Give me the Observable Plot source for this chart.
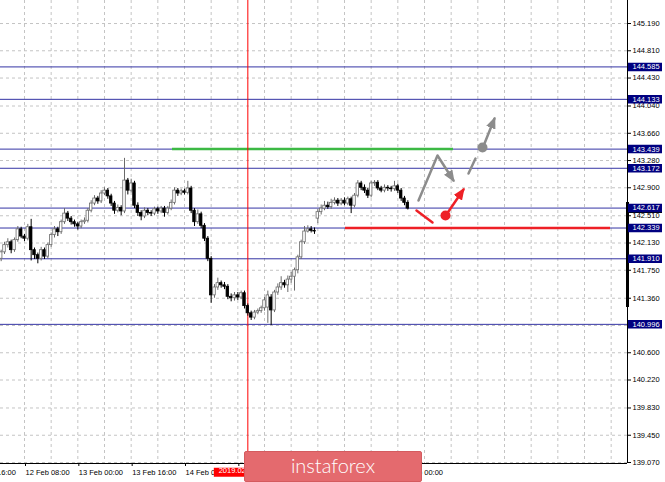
<!DOCTYPE html>
<html><head><meta charset="utf-8">
<script src="https://cdn.jsdelivr.net/npm/d3@7"></script>
<script src="https://cdn.jsdelivr.net/npm/@observablehq/plot@0.6"></script>
<style>
html,body{margin:0;padding:0;background:#fff;overflow:hidden;}
#wrap{position:relative;width:665px;height:482px;overflow:hidden;}
#logo{position:absolute;left:244px;top:451px;width:176px;height:29px;background:#e46a6e;border:1px solid #d45b5f;border-radius:2px;color:#fff;font:300 20px Lato,"Open Sans",sans-serif;text-align:center;line-height:27px;}
</style></head><body>
<div id="wrap"><div id="chart"></div><div id="logo">instaforex</div></div>
<script>
// ---- data (hourly candles, index = bar number) ----
const open = [141.91,142.00,142.10,142.14,142.03,142.17,142.32,142.22,142.19,142.35,
142.03,141.96,141.91,142.03,141.94,142.10,142.24,142.32,142.28,142.42,
142.54,142.47,142.42,142.39,142.36,142.42,142.44,142.58,142.68,142.75,
142.71,142.82,142.86,142.78,142.68,142.58,142.62,142.57,143.00,142.86,
142.96,142.65,142.55,142.50,142.58,142.55,142.54,142.60,142.57,142.61,
142.55,142.61,142.69,142.86,142.82,142.85,142.83,142.89,142.58,142.42,
142.53,142.37,142.19,141.91,141.40,141.51,141.57,141.54,141.52,141.38,
141.36,141.40,141.37,141.43,141.25,141.15,141.09,141.16,141.18,141.22,
141.23,141.37,141.19,141.44,141.51,141.57,141.54,141.62,141.66,141.75,
141.93,142.14,142.29,142.32,142.30,142.47,142.56,142.61,142.65,142.63,
142.69,142.72,142.68,142.72,142.68,142.74,142.65,142.79,142.96,142.90,
142.86,142.79,142.96,142.97,142.89,142.86,142.90,142.89,142.88,142.92,
142.86,142.75,142.69];
const close = [142.00,142.10,142.14,142.03,142.17,142.32,142.22,142.19,142.35,142.03,
141.96,141.91,142.03,141.94,142.10,142.24,142.32,142.28,142.42,142.54,
142.47,142.42,142.39,142.36,142.42,142.44,142.58,142.68,142.75,142.71,
142.82,142.86,142.78,142.68,142.58,142.62,142.57,143.00,142.86,142.96,
142.65,142.55,142.50,142.58,142.55,142.54,142.60,142.57,142.61,142.55,
142.61,142.69,142.86,142.82,142.85,142.83,142.89,142.58,142.42,142.53,
142.37,142.19,141.91,141.40,141.51,141.57,141.54,141.52,141.38,141.36,
141.40,141.37,141.43,141.25,141.15,141.09,141.16,141.18,141.22,141.33,
141.40,141.19,141.44,141.51,141.57,141.54,141.62,141.66,141.75,141.93,
142.14,142.29,142.32,142.30,142.29,142.56,142.61,142.65,142.63,142.69,
142.72,142.68,142.72,142.68,142.74,142.65,142.79,142.96,142.90,142.86,
142.79,142.96,142.97,142.89,142.86,142.90,142.89,142.88,142.92,142.86,
142.75,142.69,142.61];
const high = [142.03,142.14,142.19,142.17,142.20,142.36,142.35,142.25,142.39,142.46,
142.06,141.99,142.07,142.06,142.13,142.27,142.36,142.35,142.45,142.61,
142.57,142.50,142.45,142.42,142.45,142.48,142.61,142.72,142.79,142.78,
142.86,142.90,142.89,142.81,142.71,142.66,142.65,143.31,143.03,143.02,
142.99,142.69,142.58,142.62,142.61,142.58,142.63,142.63,142.64,142.64,
142.64,142.73,142.90,142.89,142.88,142.88,142.99,142.92,142.61,142.59,
142.56,142.40,142.22,141.94,141.55,141.64,141.60,141.58,141.55,141.42,
141.44,141.44,141.46,141.46,141.28,141.18,141.19,141.21,141.25,141.37,
141.46,141.41,141.47,141.56,141.66,141.61,141.67,141.72,141.78,141.96,
142.17,142.36,142.37,142.36,142.34,142.60,142.66,142.71,142.70,142.74,
142.76,142.75,142.75,142.76,142.77,142.77,142.82,143.00,142.99,142.94,
142.89,142.99,143.00,143.00,142.92,142.94,142.93,142.92,142.99,142.95,
142.89,142.78,142.72];
const low = [141.87,141.97,142.06,141.98,142.00,142.14,142.19,142.15,142.16,141.88,
141.90,141.84,141.88,141.90,141.91,142.07,142.20,142.22,142.25,142.39,
142.43,142.38,142.35,142.31,142.33,142.39,142.41,142.55,142.65,142.67,
142.68,142.79,142.74,142.64,142.53,142.55,142.51,142.54,142.80,142.83,
142.61,142.50,142.44,142.47,142.51,142.50,142.51,142.53,142.54,142.49,
142.52,142.58,142.66,142.78,142.79,142.80,142.80,142.54,142.36,142.39,
142.33,142.15,141.87,141.29,141.36,141.47,141.50,141.48,141.34,141.31,
141.32,141.33,141.34,141.21,141.11,141.05,141.06,141.13,141.15,141.18,
141.01,140.98,141.16,141.40,141.47,141.50,141.44,141.57,141.46,141.70,
141.90,142.11,142.27,142.27,142.25,142.40,142.52,142.58,142.60,142.60,
142.66,142.64,142.65,142.65,142.65,142.54,142.62,142.76,142.86,142.82,
142.75,142.76,142.92,142.86,142.83,142.83,142.85,142.84,142.85,142.82,
142.71,142.65,142.59];

const priceTicks = [145.19,144.81,144.43,144.04,143.66,143.28,142.90,142.51,142.13,141.75,141.36,140.98,140.60,140.22,139.83,139.45,139.07];
const levels = [144.585,144.133,143.439,143.172,142.617,142.339,141.910,140.996];
const timeBars = [-9,7,23,39,55,71,87,103,119];
// labels of ticks 71, 87 and 103 sit completely under the time label and the logo: not shown
const timeLabels = ["11 Feb 16:00","12 Feb 08:00","13 Feb 00:00","13 Feb 16:00","14 Feb 08:00","","","","19 Feb 00:00"];
const gridBars = d3.range(7, 188, 8);
const currentPrice = 142.611;
const vLineBar = 74;
const vLineLabel = "2019.02.15 03:00";

// drawn annotations (bar index, price)
const greenSeg = [{x1: 51.4, x2: 135.7, y: 143.439}];
const redSeg = [{x1: 103.3, x2: 182.8, y: 142.339}];
const grayPath = [{x:125.2,y:142.723},{x:130.9,y:143.350},{x:135.7,y:143.002}];
const redDash = [{x:124.6,y:142.583},{x:129.4,y:142.416}];
const redArrow = [{x:134.2,y:142.569},{x:138.7,y:142.876}];
const grayDash = [{x:140.2,y:143.099},{x:142.3,y:143.308}];
const grayArrow = [{x:145.0,y:143.517},{x:148.0,y:143.866}];
const redDot = [{x:133.3,y:142.514}];
const grayDot = [{x:144.4,y:143.462}];
const axisBar = [{x:187.9, y1:142.695, y2:141.231}];

const candles = open.map((o,i)=>({i, o, h:high[i], l:low[i], c:close[i], up: close[i] >= o}));
const labelOf = new Map(timeBars.map((b,k)=>[b, timeLabels[k]]));

const BOX_X1 = 188.2, BOX_X2 = 198.4; // label box span in the right margin (bar units)

const chart = Plot.plot({
  width: 665, height: 482,
  marginLeft: 0, marginRight: 38, marginTop: 0, marginBottom: 19,
  x: {domain: [-0.2, 187.9], axis: null},
  y: {domain: [139.056, 145.511], axis: null},
  style: {fontFamily: "'Liberation Sans', Arial, sans-serif", fontSize: "7.5px", background: "#fff", color: "#000", overflow: "hidden"},
  marks: [
    Plot.ruleX(gridBars, {stroke: "#c4c4c4", strokeDasharray: "3,3"}),
    Plot.ruleY(priceTicks, {stroke: "#c4c4c4", strokeDasharray: "3,3"}),
    Plot.ruleY(levels, {stroke: "#3434a4", strokeWidth: 1}),
    Plot.ruleY(greenSeg, {y: "y", x1: "x1", x2: "x2", stroke: "#3cb944", strokeWidth: 2.5}),
    Plot.ruleY(redSeg, {y: "y", x1: "x1", x2: "x2", stroke: "#ee2026", strokeWidth: 2.5}),
    Plot.ruleX([vLineBar], {stroke: "#ff0000", strokeWidth: 1}),
    Plot.ruleX(candles, {x: "i", y1: "l", y2: "h", stroke: d => d.up ? "#6a6a6a" : "#000000"}),
    Plot.rect(candles, {x1: d => d.i - 0.38, x2: d => d.i + 0.38, y1: "o", y2: "c",
      fill: d => d.up ? "#ffffff" : "#000000", stroke: d => d.up ? "#6a6a6a" : "#000000", strokeWidth: 0.8}),
    Plot.line(redDash, {x: "x", y: "y", stroke: "#ee2026", strokeWidth: 2.5}),
    Plot.line(redArrow, {x: "x", y: "y", stroke: "#ee2026", strokeWidth: 2.5, ariaDescription: "red-head"}),
    Plot.dot(redDot, {x: "x", y: "y", r: 5, fill: "#ee2026"}),
    Plot.line(grayPath, {x: "x", y: "y", stroke: "#8c8c8c", strokeWidth: 2.5, ariaDescription: "gray-head"}),
    Plot.line(grayDash, {x: "x", y: "y", stroke: "#8c8c8c", strokeWidth: 2.5}),
    Plot.line(grayArrow, {x: "x", y: "y", stroke: "#8c8c8c", strokeWidth: 2.5, ariaDescription: "gray-head"}),
    Plot.dot(grayDot, {x: "x", y: "y", r: 5, fill: "#8c8c8c"}),
    // frame lines
    Plot.ruleX([187.9], {stroke: "#000"}),
    Plot.ruleY([139.056], {stroke: "#000"}),
    Plot.ruleX(axisBar, {x: "x", y1: "y1", y2: "y2", stroke: "#000", strokeWidth: 3}),
    // axes
    Plot.axisY(priceTicks, {anchor: "right", tickSize: 3, tickPadding: 2, label: null, tickFormat: d3.format(".3f")}),
    Plot.axisX(timeBars, {anchor: "bottom", tickSize: 3, tickPadding: 3, label: null, tickFormat: d => labelOf.get(d), textAnchor: "start", dx: 1}),
    // price labels
    Plot.ruleY([currentPrice], {x1: BOX_X1, x2: BOX_X2, stroke: "#000", strokeWidth: 9}),
    Plot.ruleY(levels, {x1: BOX_X1, x2: BOX_X2, stroke: "#000080", strokeWidth: 8.5}),
    Plot.text(levels, {y: d => d, text: d => d.toFixed(3), frameAnchor: "right", textAnchor: "start", dx: 5, fill: "#fff"}),
    // vertical line time label
    Plot.ruleX([vLineBar], {y1: 138.99, y2: 138.865, stroke: "#ff0000", strokeWidth: 68}),
    Plot.text([vLineLabel], {x: vLineBar, frameAnchor: "bottom", dy: 9, text: d => d, fill: "#fff", textAnchor: "middle"})
  ]
});

document.getElementById("chart").appendChild(chart);

// filled arrowheads
const svg = d3.select(chart);
const defs = svg.append("defs");
function head(id, color) {
  defs.append("marker").attr("id", id).attr("viewBox", "0 0 12 10")
    .attr("refX", 10).attr("refY", 5).attr("markerUnits", "userSpaceOnUse")
    .attr("markerWidth", 12).attr("markerHeight", 10).attr("orient", "auto")
    .append("path").attr("d", "M0,0L12,5L0,10Z").attr("fill", color);
}
head("ah-gray", "#8c8c8c");
head("ah-red", "#ee2026");
svg.selectAll('[aria-description="gray-head"] path').attr("marker-end", "url(#ah-gray)");
svg.selectAll('[aria-description="red-head"] path').attr("marker-end", "url(#ah-red)");
</script></body></html>
